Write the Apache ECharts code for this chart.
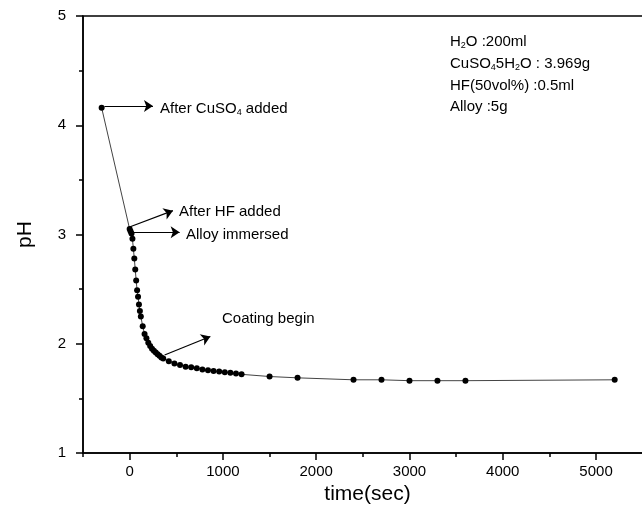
<!DOCTYPE html>
<html><head><meta charset="utf-8">
<script src="https://cdn.jsdelivr.net/npm/echarts@6/dist/echarts.min.js"></script>
<style>html,body{margin:0;padding:0;background:#fff}#c{width:642px;height:515px}</style>
</head><body><div id="c"></div>
<script>
// time (sec)
const timeSec = [-300, 0, 10, 20, 30, 40, 50, 60, 70, 80, 90, 100, 110, 120, 140, 160, 180, 200, 220, 240, 260, 280, 300, 320, 340, 360, 420, 480, 540, 600, 660, 720, 780, 840, 900, 960, 1020, 1080, 1140, 1200, 1500, 1800, 2400, 2700, 3000, 3300, 3600, 5200];
// pH values
const pHValues = [4.16, 3.05, 3.03, 3.01, 2.96, 2.87, 2.78, 2.68, 2.58, 2.49, 2.43, 2.36, 2.30, 2.25, 2.16, 2.09, 2.05, 2.01, 1.98, 1.955, 1.935, 1.92, 1.905, 1.89, 1.875, 1.865, 1.84, 1.82, 1.805, 1.79, 1.785, 1.776, 1.765, 1.757, 1.75, 1.745, 1.74, 1.735, 1.728, 1.72, 1.70, 1.688, 1.67, 1.67, 1.662, 1.662, 1.662, 1.67];
const xMajorTicks = [0, 1000, 2000, 3000, 4000, 5000];
const xMinorTicks = [-500, 500, 1500, 2500, 3500, 4500, 5500];
const annotArrows = [
  {from: [-270, 4.176], to: [250, 4.176]},
  {from: [-8, 3.066], to: [464, 3.218]},
  {from: [35, 3.02], to: [536, 3.02]},
  {from: [375, 1.897], to: [865, 2.066]}
];

const FONT = '"Liberation Sans", Arial, Helvetica, sans-serif';
const chart = echarts.init(document.getElementById('c'));
const pts = timeSec.map((t, i) => [t, pHValues[i]]);
const rich = {
  n: {fontSize: 15, fontFamily: FONT, color: '#000', lineHeight: 18, verticalAlign: 'middle'},
  s: {fontSize: 9, fontFamily: FONT, color: '#000', lineHeight: 9, verticalAlign: 'bottom'}
};
function txt(x, y, str) {
  return {type: 'text', left: x, top: y - 9, style: {text: str, rich: rich, fill: '#000', font: '15px ' + FONT}};
}
chart.setOption({
  animation: false,
  backgroundColor: '#fff',
  grid: {left: 83, top: 16, width: 569, height: 437, show: true, borderColor: '#000', borderWidth: 1.5,
         containLabel: false, outerBoundsMode: 'none'},
  xAxis: [{
    type: 'value', min: -500, max: 5600,
    name: 'time(sec)', nameLocation: 'middle', nameGap: 31,
    nameTextStyle: {fontSize: 21, fontFamily: FONT, color: '#000'},
    axisLine: {onZero: false, lineStyle: {color: '#000', width: 1.5}},
    axisTick: {show: true, length: 7, customValues: xMajorTicks, lineStyle: {color: '#000', width: 1.5}},
    axisLabel: {customValues: xMajorTicks, formatter: v => String(v), margin: 11, fontSize: 15, fontFamily: FONT, color: '#000'},
    splitLine: {show: false}
  }, {
    type: 'value', min: -500, max: 5600, position: 'bottom',
    axisLine: {show: false, onZero: false},
    axisTick: {show: true, length: 4, customValues: xMinorTicks, lineStyle: {color: '#000', width: 1.5}},
    axisLabel: {show: false}, splitLine: {show: false}
  }],
  yAxis: {
    type: 'value', min: 1, max: 5, interval: 1,
    name: 'pH', nameLocation: 'middle', nameGap: 47, nameRotate: 90,
    nameTextStyle: {fontSize: 21, fontFamily: FONT, color: '#000'},
    axisLine: {onZero: false, lineStyle: {color: '#000', width: 1.5}},
    axisTick: {length: 7, lineStyle: {color: '#000', width: 1.5}},
    minorTick: {show: true, splitNumber: 2, length: 4, lineStyle: {color: '#000', width: 1.5}},
    axisLabel: {margin: 17, fontSize: 15, fontFamily: FONT, color: '#000'},
    splitLine: {show: false}
  },
  series: [{
    type: 'line', data: pts, xAxisIndex: 0,
    symbol: 'circle', symbolSize: 6, showSymbol: true,
    itemStyle: {color: '#000'},
    lineStyle: {color: '#444', width: 1},
    markLine: {
      silent: true, symbol: ['none', 'arrow'], symbolSize: 9,
      label: {show: false},
      lineStyle: {color: '#000', width: 1.2, type: 'solid'},
      data: annotArrows.map(a => [{coord: a.from}, {coord: a.to}])
    }
  }],
  graphic: [
    txt(160, 110, '{n|After CuSO}{s|4}{n| added}'),
    txt(179, 213, '{n|After HF added}'),
    txt(186, 236, '{n|Alloy immersed}'),
    txt(222, 320, '{n|Coating begin}'),
    txt(450, 43, '{n|H}{s|2}{n|O :200ml}'),
    txt(450, 65, '{n|CuSO}{s|4}{n|5H}{s|2}{n|O : 3.969g}'),
    txt(450, 87, '{n|HF(50vol%) :0.5ml}'),
    txt(450, 108, '{n|Alloy :5g}')
  ]
});
</script></body></html>
